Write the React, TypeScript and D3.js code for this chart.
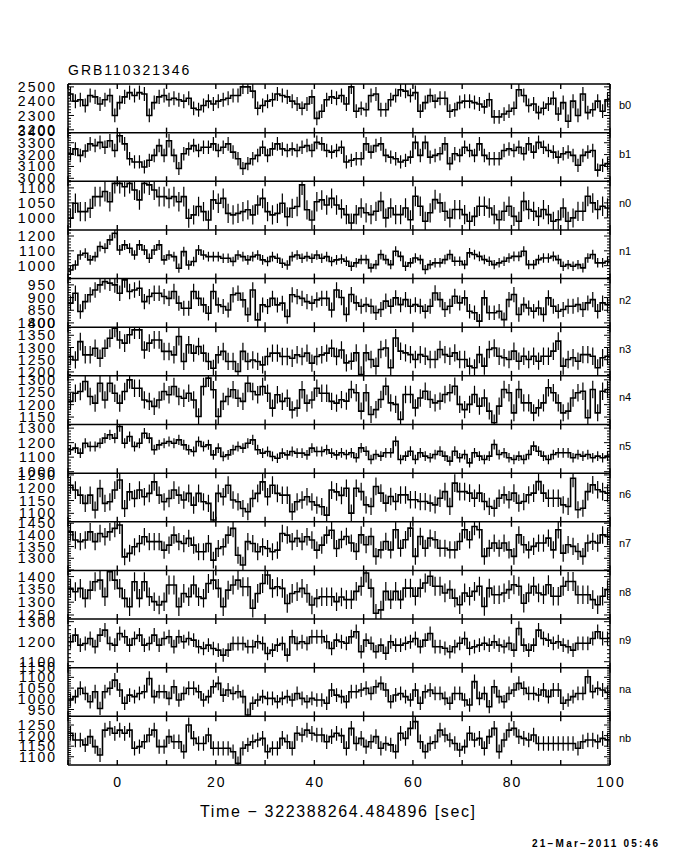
import React from "react";
import * as d3 from "d3";

const T_START = -10;
const BIN = 1;
const detectors = ["b0", "b1", "n0", "n1", "n2", "n3", "n4", "n5", "n6", "n7", "n8", "n9", "na", "nb"];

const b0 = [2450,2400,2410,2370,2440,2430,2380,2410,2440,2300,
 2390,2430,2460,2440,2460,2450,2300,2390,2430,2440,
 2410,2420,2410,2400,2420,2350,2340,2370,2400,2380,
 2400,2410,2420,2440,2440,2500,2500,2470,2350,2370,
 2400,2410,2450,2440,2430,2400,2380,2350,2380,2430,
 2280,2330,2410,2430,2420,2440,2380,2500,2330,2350,
 2340,2440,2450,2340,2340,2410,2440,2480,2470,2440,
 2460,2330,2390,2440,2400,2420,2420,2330,2340,2390,
 2400,2400,2390,2380,2360,2410,2290,2290,2310,2330,
 2350,2480,2440,2370,2380,2320,2350,2380,2420,2310,
 2390,2260,2400,2300,2450,2320,2340,2400,2330,2410];
const b1 = [3207,3248,3193,3230,3290,3276,3303,3262,3317,3234,
 3359,3290,3165,3138,3138,3096,3152,3193,3276,3193,
 3317,3193,3083,3207,3248,3276,3234,3262,3262,3290,
 3234,3262,3290,3221,3165,3083,3124,3165,3193,3262,
 3193,3248,3290,3248,3234,3248,3234,3262,3276,3234,
 3303,3290,3234,3221,3234,3262,3138,3152,3165,3165,
 3290,3221,3276,3290,3193,3179,3165,3138,3152,3179,
 3303,3193,3303,3179,3193,3207,3290,3124,3207,3193,
 3262,3234,3193,3290,3193,3165,3165,3165,3234,3248,
 3234,3262,3207,3290,3221,3303,3262,3234,3221,3179,
 3207,3221,3193,3110,3193,3221,3234,3069,3110,3124];
const n0 = [999,1049,1021,1021,1032,1071,1071,1088,1054,1115,
 1115,1104,1115,1093,1060,1115,1110,1093,1071,1071,
 1065,1071,1054,1071,999,1010,1038,1021,993,1060,
 1049,1065,1015,1010,1015,1021,1027,1010,1043,1065,
 1021,1010,1015,1049,1004,1032,1038,1110,1027,993,
 1054,1060,1043,1065,1043,1030,1011,983,1011,1033,
 1017,1011,1022,1055,1000,1033,1011,1011,1033,994,
 1072,1039,989,1017,1061,1050,1022,1000,1028,1028,
 1011,989,1005,1039,1039,1033,1011,994,1022,1039,
 1005,989,1055,1028,1022,1005,1028,1011,989,994,
 1033,989,1000,1022,1022,1072,1050,1028,1039,1033];
const n1 = [971,1005,1072,1084,1039,1061,1129,1117,1174,1219,
 1106,1140,1117,1072,1140,1106,1050,1106,1140,1039,
 1072,1061,983,1095,1005,1028,1106,1072,1061,1061,
 1061,1050,1050,1028,1072,1061,1039,1061,1072,1039,
 1028,1061,1050,1016,1005,1061,1072,1050,1061,1050,
 1072,1050,1061,1028,1039,1045,1030,996,1019,1041,
 1041,985,1007,1075,1041,1007,1097,1063,996,1019,
 1052,1041,974,1007,1019,1019,1041,1075,1030,1030,
 1007,1086,1075,1063,1041,1030,1007,1019,1030,1052,
 1063,1063,1097,1007,1007,1041,1052,1052,1063,1041,
 996,1007,996,1007,985,1052,1075,1019,1019,1030];
const n2 = [878,917,845,884,911,930,950,963,957,950,
 917,970,924,930,937,884,904,917,917,904,
 897,924,878,858,858,924,897,871,838,924,
 871,865,851,911,917,891,832,930,812,871,
 865,897,871,878,825,911,904,897,884,878,
 891,897,897,851,930,900,833,912,879,866,
 872,866,840,853,886,866,899,872,892,866,
 872,866,846,866,918,892,853,866,905,879,
 899,846,840,807,899,840,840,846,813,892,
 912,833,872,859,846,859,833,899,866,846,
 853,866,866,872,853,879,892,846,879,872];
const n3 = [1263,1249,1324,1270,1270,1297,1256,1297,1338,1379,
 1331,1318,1352,1372,1372,1290,1318,1331,1331,1284,
 1284,1270,1345,1243,1311,1277,1304,1277,1243,1215,
 1270,1284,1243,1243,1202,1284,1243,1249,1243,1229,
 1263,1277,1277,1263,1263,1256,1270,1263,1277,1236,
 1263,1270,1277,1297,1263,1290,1237,1244,1278,1189,
 1278,1251,1224,1292,1298,1217,1339,1285,1278,1271,
 1251,1271,1264,1251,1251,1292,1271,1264,1278,1251,
 1251,1224,1217,1271,1224,1292,1298,1264,1258,1251,
 1285,1244,1264,1251,1264,1244,1264,1264,1285,1326,
 1224,1251,1258,1244,1271,1271,1264,1217,1258,1264];
const n4 = [1213,1246,1253,1293,1233,1206,1286,1219,1286,1246,
 1206,1253,1300,1266,1266,1219,1213,1193,1219,1253,
 1240,1273,1233,1226,1246,1219,1152,1273,1307,1260,
 1152,1213,1233,1260,1226,1213,1286,1253,1240,1273,
 1246,1186,1240,1213,1226,1179,1186,1260,1206,1219,
 1266,1246,1246,1213,1206,1220,1214,1261,1248,1174,
 1248,1160,1180,1221,1274,1207,1201,1140,1241,1241,
 1187,1227,1254,1221,1207,1214,1241,1248,1274,1201,
 1180,1201,1241,1194,1227,1174,1127,1194,1261,1248,
 1167,1261,1207,1207,1167,1187,1207,1268,1248,1207,
 1167,1174,1227,1248,1254,1147,1261,1167,1254,1261];
const n5 = [1151,1162,1128,1196,1174,1174,1196,1231,1254,1231,
 1311,1196,1242,1174,1196,1265,1231,1151,1185,1196,
 1208,1196,1219,1185,1151,1139,1208,1174,1185,1116,
 1162,1105,1116,1151,1174,1162,1196,1219,1151,1128,
 1139,1105,1093,1128,1116,1139,1128,1128,1116,1162,
 1139,1139,1151,1128,1116,1130,1118,1130,1096,1164,
 1141,1084,1118,1107,1130,1130,1210,1084,1107,1141,
 1084,1130,1107,1096,1118,1141,1107,1073,1141,1096,
 1118,1061,1130,1107,1084,1107,1187,1118,1130,1096,
 1084,1107,1084,1118,1176,1141,1107,1084,1118,1130,
 1130,1130,1096,1118,1107,1118,1096,1107,1096,1107];
const n6 = [1210,1191,1171,1139,1171,1113,1197,1139,1145,1191,
 1230,1119,1184,1158,1191,1165,1178,1223,1171,1145,
 1158,1191,1171,1152,1178,1132,1178,1145,1139,1074,
 1178,1165,1210,1152,1145,1119,1106,1158,1178,1223,
 1165,1210,1178,1171,1171,1106,1145,1152,1165,1145,
 1132,1126,1093,1191,1184,1170,1198,1101,1198,1185,
 1133,1127,1205,1179,1140,1166,1146,1172,1172,1153,
 1153,1146,1146,1140,1133,1159,1185,1127,1218,1185,
 1185,1179,1159,1179,1146,1127,1120,1159,1172,1153,
 1179,1140,1146,1172,1179,1224,1179,1159,1159,1159,
 1133,1127,1237,1114,1120,1185,1211,1192,1185,1179];
const n7 = [1413,1378,1371,1378,1413,1371,1406,1392,1413,1428,
 1442,1306,1321,1349,1363,1392,1371,1371,1371,1335,
 1356,1399,1371,1363,1385,1356,1328,1328,1363,1292,
 1342,1349,1399,1428,1313,1271,1371,1363,1328,1349,
 1342,1328,1335,1406,1399,1371,1385,1371,1392,1378,
 1335,1356,1399,1420,1342,1380,1393,1365,1329,1400,
 1358,1393,1308,1336,1372,1336,1422,1343,1379,1429,
 1308,1393,1343,1386,1379,1343,1343,1336,1336,1372,
 1422,1379,1436,1422,1308,1343,1365,1343,1365,1336,
 1308,1400,1358,1336,1351,1365,1365,1386,1336,1422,
 1322,1358,1351,1329,1308,1365,1372,1365,1400,1393];
const n8 = [1354,1341,1354,1315,1347,1380,1386,1321,1419,1386,
 1354,1315,1282,1380,1315,1380,1321,1302,1289,1302,
 1367,1367,1282,1334,1321,1367,1321,1315,1373,1386,
 1354,1282,1347,1367,1386,1360,1360,1276,1334,1373,
 1406,1354,1360,1354,1295,1334,1341,1354,1334,1289,
 1315,1321,1321,1321,1302,1320,1310,1310,1342,1362,
 1414,1355,1257,1270,1342,1310,1342,1310,1355,1355,
 1323,1355,1375,1401,1362,1362,1336,1349,1316,1290,
 1336,1323,1342,1362,1283,1355,1329,1329,1336,1349,
 1368,1362,1296,1336,1362,1336,1329,1368,1323,1323,
 1362,1381,1381,1329,1329,1329,1310,1290,1323,1349];
const n9 = [1200,1233,1183,1191,1216,1175,1233,1258,1191,1183,
 1241,1225,1183,1216,1233,1183,1191,1233,1183,1216,
 1225,1175,1225,1200,1216,1208,1175,1166,1183,1166,
 1158,1133,1158,1191,1191,1191,1175,1175,1200,1191,
 1141,1158,1183,1191,1133,1225,1191,1200,1191,1225,
 1225,1225,1200,1166,1208,1200,1192,1225,1250,1150,
 1208,1192,1150,1183,1142,1200,1183,1183,1192,1200,
 1216,1175,1208,1241,1175,1175,1167,1150,1175,1192,
 1216,1167,1175,1183,1192,1183,1200,1183,1175,1192,
 1158,1266,1183,1158,1183,1258,1216,1208,1192,1200,
 1183,1175,1158,1192,1192,1192,1216,1250,1216,1216];
const na = [994,1010,1049,1025,986,1033,955,1033,1049,1087,
 1041,979,1017,1010,1025,1033,1095,1010,1033,1033,
 1002,1056,994,1025,1049,1049,1033,994,1010,1056,
 1072,1017,1041,1025,1033,1010,924,979,994,1010,
 1002,1002,986,1002,1010,994,1025,1002,986,1002,
 994,994,979,1041,1017,1010,986,1033,1033,1041,
 1049,1025,1056,1072,1041,986,1018,1025,1010,994,
 1041,979,1033,1041,1025,1025,1002,979,1025,1025,
 994,971,1080,1002,1025,963,1056,1010,986,1025,
 1041,1072,1049,1025,1025,1018,1041,1010,1041,1041,
 979,994,1010,1025,1025,1103,1033,1049,1041,1030];
const nb = [1211,1179,1179,1156,1195,1148,1108,1226,1234,1211,
 1226,1211,1226,1140,1148,1171,1203,1226,1148,1148,
 1195,1171,1171,1124,1250,1187,1163,1163,1203,1140,
 1140,1140,1140,1124,1069,1140,1156,1171,1179,1187,
 1124,1140,1140,1187,1171,1140,1211,1203,1226,1211,
 1203,1203,1171,1195,1211,1200,1140,1234,1163,1187,
 1148,1171,1195,1140,1163,1156,1124,1211,1187,1234,
 1266,1171,1124,1163,1171,1226,1203,1179,1163,1132,
 1148,1211,1179,1187,1140,1195,1234,1124,1179,1226,
 1234,1195,1187,1179,1203,1163,1163,1163,1163,1163,
 1163,1163,1163,1140,1171,1179,1179,1171,1187,1180];

const series = [b0, b1, n0, n1, n2, n3, n4, n5, n6, n7, n8, n9, na, nb];

const yDomains: [number, number][] = [
  [2180, 2520], [2975, 3385], [960, 1122], [913, 1241], [783, 975], [1184, 1383], [1120, 1316],
  [990, 1325], [1067, 1257], [1248, 1456], [1234, 1424], [1070, 1313], [918, 1145], [1061, 1291],
];
const yLabels: number[][] = [
  [2200, 2300, 2400, 2500], [3000, 3100, 3200, 3300, 3400], [1000, 1050, 1100], [1000, 1100, 1200],
  [800, 850, 900, 950], [1200, 1250, 1300, 1350, 1400], [1150, 1200, 1250, 1300], [1000, 1100, 1200, 1300],
  [1100, 1150, 1200, 1250], [1300, 1350, 1400, 1450], [1250, 1300, 1350, 1400], [1100, 1200, 1300],
  [950, 1000, 1050, 1100, 1150], [1100, 1150, 1200, 1250],
];
const yMajorStep = [100, 100, 50, 100, 50, 50, 50, 100, 50, 50, 50, 100, 50, 50];
const xLabelTicks = [0, 20, 40, 60, 80, 100];
const xTickMarks = [-10, 0, 10, 20, 30, 40, 50, 60, 70, 80, 90, 100];

const TITLE = "GRB110321346";
const XTITLE = "Time \u2212 322388264.484896 [sec]";
const DATE = "21\u2212Mar\u22122011 05:46";

const LEFT = 68, RIGHT = 610, TOP = 84, BOTTOM = 765;
const FONT = "'Liberation Sans', Arial, sans-serif";

export default function App() {
  const x = d3.scaleLinear().domain([T_START, 100]).range([LEFT, RIGHT]);
  const bands = d3.range(series.length + 1).map(i => TOP + (i * (BOTTOM - TOP)) / series.length);

  const panels = series.map((vals, p) => {
    const y0 = bands[p], y1 = bands[p + 1];
    const y = d3.scaleLinear().domain(yDomains[p]).range([y1, y0]);
    const pts: [number, number][] = vals.map((v, i) => [T_START + i * BIN, v]);
    pts.push([T_START + vals.length * BIN, vals[vals.length - 1]]);
    const line = d3.line<[number, number]>().x(d => x(d[0])).y(d => y(d[1])).curve(d3.curveStepAfter);
    const step = yMajorStep[p];
    const minor = step / 5;
    const [lo, hi] = yDomains[p];
    const minorTicks = d3.range(Math.ceil(lo / minor) * minor, hi + 0.001, minor);
    const clipId = `clip-${p}`;
    return (
      <g key={p}>
        <defs>
          <clipPath id={clipId}>
            <rect x={LEFT} y={y0} width={RIGHT - LEFT} height={y1 - y0} />
          </clipPath>
        </defs>
        <g clipPath={`url(#${clipId})`}>
          <path d={line(pts) || ""} fill="none" stroke="#000" strokeWidth={1.6} />
          {vals.map((v, i) => {
            const cx = x(T_START + (i + 0.5) * BIN);
            const e = Math.sqrt(v);
            return <line key={i} x1={cx} x2={cx} y1={y(v - e)} y2={y(v + e)} stroke="#000" strokeWidth={1.2} />;
          })}
        </g>
        {minorTicks.map((t, i) => {
          const isMajor = Math.abs(t / step - Math.round(t / step)) < 1e-6;
          const len = isMajor ? 6 : 3;
          const ty = y(t);
          return (
            <g key={"yt" + i}>
              <line x1={LEFT} x2={LEFT + len} y1={ty} y2={ty} stroke="#000" strokeWidth={1} />
              <line x1={RIGHT} x2={RIGHT - len} y1={ty} y2={ty} stroke="#000" strokeWidth={1} />
            </g>
          );
        })}
        {xTickMarks.map((t, i) => (
          <g key={"xt" + i}>
            <line x1={x(t)} x2={x(t)} y1={y0} y2={y0 + 5} stroke="#000" strokeWidth={1.4} />
            <line x1={x(t)} x2={x(t)} y1={y1} y2={y1 - 5} stroke="#000" strokeWidth={1.4} />
          </g>
        ))}
        {yLabels[p].map((l, i) => (
          <text key={"yl" + i} x={57} y={y(l)} dy="0.36em" textAnchor="end" fontSize={14}
            letterSpacing={2} fontFamily={FONT} fill="#000">{l}</text>
        ))}
        <text x={619} y={(y0 + y1) / 2 + 1} fontSize={11} fontFamily={FONT} fill="#000">{detectors[p]}</text>
      </g>
    );
  });

  return (
    <svg width={680} height={850} style={{ position: "absolute", left: 0, top: 0, background: "#fff" }}>
      <rect x={0} y={0} width={680} height={850} fill="#fff" />
      <text x={68} y={75} fontSize={14} letterSpacing={2} fontFamily={FONT} fill="#000">{TITLE}</text>
      {panels}
      {bands.map((b, i) => (
        <line key={"bd" + i} x1={LEFT} x2={RIGHT} y1={b} y2={b} stroke="#000" strokeWidth={1.5} />
      ))}
      <line x1={LEFT} x2={LEFT} y1={TOP} y2={BOTTOM} stroke="#000" strokeWidth={1.5} />
      <line x1={RIGHT} x2={RIGHT} y1={TOP} y2={BOTTOM} stroke="#000" strokeWidth={1.5} />
      {xLabelTicks.map((t, i) => (
        <text key={"xl" + i} x={x(t) + 1} y={787} textAnchor="middle" fontSize={14} letterSpacing={2}
          fontFamily={FONT} fill="#000">{t}</text>
      ))}
      <text x={200} y={817} fontSize={16} textLength={275} lengthAdjust="spacing" fontFamily={FONT} fill="#000">{XTITLE}</text>
      <text x={532} y={847} fontSize={10} textLength={126} lengthAdjust="spacing" fontWeight="bold" fontFamily={FONT} fill="#000">{DATE}</text>
    </svg>
  );
}
